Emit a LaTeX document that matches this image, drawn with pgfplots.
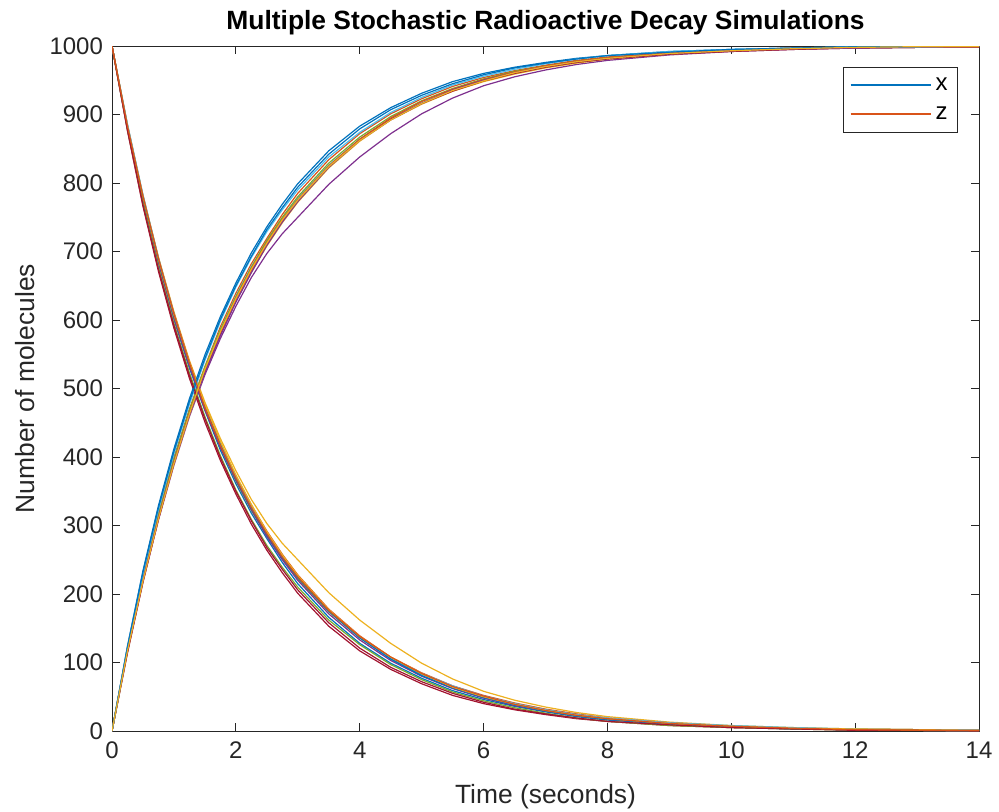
\documentclass[border=0pt]{standalone}
\usepackage{pgfplots}
\usepackage{pgfplotstable}
\usepackage{fontspec}
\setmainfont{Liberation Sans}
\pgfplotsset{compat=1.18}
\definecolor{c1}{rgb}{0,0.447,0.741}
\definecolor{c2}{rgb}{0.850,0.325,0.098}
\definecolor{c3}{rgb}{0.929,0.694,0.125}
\definecolor{c4}{rgb}{0.494,0.184,0.556}
\definecolor{c5}{rgb}{0.466,0.674,0.188}
\definecolor{c6}{rgb}{0.301,0.745,0.933}
\definecolor{c7}{rgb}{0.635,0.078,0.184}
\definecolor{axc}{rgb}{0.15,0.15,0.15}

\pgfplotstableread{
t x z
0 1000 0
0.25 880 120
0.5 775 225
0.75 683 317
1 601 399
1.25 530 470
1.5 468 532
1.75 410 590
2 361 639
2.25 318 682
2.5 281 719
2.75 246 754
3 215 785
3.5 166 834
4 128 872
4.5 99 901
5 77 923
5.5 59 941
6 46 954
6.5 36 964
7 28 972
7.5 21 979
8 16 984
9 10 990
10 6 994
11 3 997
12 2 998
13 1 999
14 1 999
}\simA
\pgfplotstableread{
t x z
0 1000 0
0.25 884 116
0.5 782 218
0.75 692 308
1 612 388
1.25 541 459
1.5 480 520
1.75 427 573
2 380 620
2.25 338 662
2.5 303 697
2.75 274 726
3 250 750
3.5 202 798
4 162 838
4.5 128 872
5 99 901
5.5 76 924
6 58 942
6.5 45 955
7 35 965
7.5 27 973
8 21 979
9 13 987
10 8 992
11 5 995
12 3 997
13 2 998
14 1 999
}\simB
\pgfplotstableread{
t x z
0 1000 0
0.25 883 117
0.5 779 221
0.75 686 314
1 604 396
1.25 534 466
1.5 470 530
1.75 414 586
2 365 635
2.25 322 678
2.5 285 715
2.75 252 748
3 222 778
3.5 174 826
4 136 864
4.5 106 894
5 83 917
5.5 65 935
6 51 949
6.5 39 961
7 30 970
7.5 23 977
8 18 982
9 11 989
10 7 993
11 4 996
12 2 998
13 1 999
14 0 1000
}\simC
\pgfplotstableread{
t x z
0 1000 0
0.25 876 124
0.5 766 234
0.75 671 329
1 588 412
1.25 515 485
1.5 451 549
1.75 395 605
2 346 654
2.25 302 698
2.5 264 736
2.75 231 769
3 201 799
3.5 153 847
4 117 883
4.5 90 910
5 69 931
5.5 52 948
6 40 960
6.5 31 969
7 24 976
7.5 18 982
8 14 986
9 8 992
10 5 995
11 3 997
12 2 998
13 1 999
14 0 1000
}\simD
\pgfplotstableread{
t x z
0 1000 0
0.25 885 115
0.5 781 219
0.75 690 310
1 610 390
1.25 539 461
1.5 476 524
1.75 421 579
2 372 628
2.25 330 670
2.5 292 708
2.75 258 742
3 228 772
3.5 178 822
4 139 861
4.5 108 892
5 85 915
5.5 66 934
6 52 948
6.5 41 959
7 32 968
7.5 25 975
8 19 981
9 12 988
10 7 993
11 4 996
12 3 997
13 2 998
14 1 999
}\simE
\pgfplotstableread{
t x z
0 1000 0
0.25 881 119
0.5 776 224
0.75 684 316
1 603 397
1.25 532 468
1.5 469 531
1.75 414 586
2 366 634
2.25 323 677
2.5 284 716
2.75 250 750
3 220 780
3.5 171 829
4 133 867
4.5 103 897
5 80 920
5.5 62 938
6 48 952
6.5 37 963
7 29 971
7.5 22 978
8 17 983
9 10 990
10 6 994
11 4 996
12 2 998
13 1 999
14 0 1000
}\simF
\pgfplotstableread{
t x z
0 1000 0
0.25 886 114
0.5 783 217
0.75 691 309
1 609 391
1.25 537 463
1.5 474 526
1.75 419 581
2 370 630
2.25 327 673
2.5 289 711
2.75 255 745
3 226 774
3.5 176 824
4 137 863
4.5 107 893
5 84 916
5.5 66 934
6 51 949
6.5 40 960
7 31 969
7.5 24 976
8 19 981
9 12 988
10 8 992
11 5 995
12 3 997
13 2 998
14 2 998
}\simG
\pgfplotstableread{
t x z
0 1000 0
0.25 880 120
0.5 777 223
0.75 688 312
1 607 393
1.25 536 464
1.5 473 527
1.75 418 582
2 368 632
2.25 325 675
2.5 287 713
2.75 253 747
3 224 776
3.5 175 825
4 136 864
4.5 105 895
5 81 919
5.5 63 937
6 49 951
6.5 38 962
7 29 971
7.5 22 978
8 17 983
9 10 990
10 6 994
11 3 997
12 2 998
13 1 999
14 0 1000
}\simH
\pgfplotstableread{
t x z
0 1000 0
0.25 882 118
0.5 780 220
0.75 689 311
1 608 392
1.25 538 462
1.5 477 523
1.75 423 577
2 374 626
2.25 331 669
2.5 291 709
2.75 257 743
3 227 773
3.5 177 823
4 138 862
4.5 108 892
5 84 916
5.5 64 936
6 50 950
6.5 39 961
7 30 970
7.5 23 977
8 18 982
9 11 989
10 7 993
11 4 996
12 3 997
13 2 998
14 1 999
}\simI
\pgfplotstableread{
t x z
0 1000 0
0.25 878 122
0.5 771 229
0.75 677 323
1 595 405
1.25 523 477
1.5 459 541
1.75 402 598
2 352 648
2.25 309 691
2.5 271 729
2.75 239 761
3 210 790
3.5 162 838
4 126 874
4.5 97 903
5 75 925
5.5 57 943
6 44 956
6.5 34 966
7 26 974
7.5 19 981
8 14 986
9 8 992
10 5 995
11 3 997
12 1 999
13 1 999
14 0 1000
}\simJ
\pgfplotstableread{
t x z
0 1000 0
0.25 877 123
0.5 768 232
0.75 674 326
1 592 408
1.25 519 481
1.5 456 544
1.75 399 601
2 350 650
2.25 307 693
2.5 268 732
2.75 236 764
3 206 794
3.5 158 842
4 121 879
4.5 93 907
5 72 928
5.5 55 945
6 42 958
6.5 32 968
7 25 975
7.5 19 981
8 14 986
9 9 991
10 5 995
11 3 997
12 1 999
13 1 999
14 0 1000
}\simK
\pgfplotstableread{
t x z
0 1000 0
0.25 883 117
0.5 781 219
0.75 690 310
1 609 391
1.25 537 463
1.5 472 528
1.75 417 583
2 369 631
2.25 326 674
2.5 288 712
2.75 254 746
3 225 775
3.5 176 824
4 138 862
4.5 108 892
5 84 916
5.5 65 935
6 51 949
6.5 39 961
7 30 970
7.5 23 977
8 18 982
9 11 989
10 7 993
11 4 996
12 2 998
13 1 999
14 1 999
}\simL

\begin{document}
\begin{tikzpicture}
\useasboundingbox (-56pt,-40pt) rectangle (443.5pt,365.5pt);
\begin{axis}[
  scale only axis,
  width=433.5pt, height=342.5pt,
  at={(0pt,0pt)}, anchor=south west,
  xmin=0, xmax=14, ymin=0, ymax=1000,
  xtick={0,2,...,14}, ytick={0,100,...,1000},
  tick align=inside, major tick length=4pt,
  axis line style={axc, line width=0.5pt},
  every tick/.style={axc, line width=0.5pt},
  tick label style={font=\fontsize{12}{14}\selectfont, text=axc},
  /pgf/number format/assume math mode=true,
  /pgf/number format/1000 sep={},
  xticklabel style={yshift=-2pt},
  yticklabel style={xshift=-1pt},
  xlabel={Time (seconds)},
  ylabel={Number of molecules},
  label style={font=\fontsize{13.2}{15}\selectfont, text=axc},
  xlabel style={at={(rel axis cs:0.5,0)}, anchor=center, yshift=-33pt},
  ylabel style={at={(rel axis cs:0,0.5)}, anchor=center, yshift=43.5pt},
  title={Multiple Stochastic Radioactive Decay Simulations},
  title style={at={(rel axis cs:0.5,1)}, anchor=center, yshift=5.5pt, font=\bfseries\fontsize{13.2}{15}\selectfont},
  cycle list={{c1},{c2},{c3},{c4},{c5},{c6},{c7}},
  every axis plot/.append style={line width=0.6pt},
  legend style={at={(rel axis cs:1,1)}, anchor=north east, xshift=-10.5pt, yshift=-10.5pt,
    draw=axc, line width=0.5pt, font=\fontsize{12}{14}\selectfont, row sep=3pt,
    inner xsep=3pt, inner ysep=3pt},
  legend cell align=left,
  legend image code/.code={\draw[#1, line width=1pt] (0pt,0.3pt) -- (40pt,0.3pt);},
]
\addplot table[x=t,y=x] {\simA};
\addplot table[x=t,y=z] {\simA};
\addplot table[x=t,y=x] {\simB};
\addplot table[x=t,y=z] {\simB};
\addplot table[x=t,y=x] {\simC};
\addplot table[x=t,y=z] {\simC};
\addplot table[x=t,y=x] {\simD};
\addplot table[x=t,y=z] {\simD};
\addplot table[x=t,y=x] {\simE};
\addplot table[x=t,y=z] {\simE};
\addplot table[x=t,y=x] {\simF};
\addplot table[x=t,y=z] {\simF};
\addplot table[x=t,y=x] {\simG};
\addplot table[x=t,y=z] {\simG};
\addplot table[x=t,y=x] {\simH};
\addplot table[x=t,y=z] {\simH};
\addplot table[x=t,y=x] {\simI};
\addplot table[x=t,y=z] {\simI};
\addplot table[x=t,y=x] {\simJ};
\addplot table[x=t,y=z] {\simJ};
\addplot table[x=t,y=x] {\simK};
\addplot table[x=t,y=z] {\simK};
\addplot table[x=t,y=x] {\simL};
\addplot table[x=t,y=z] {\simL};
\legend{x,z}
\end{axis}
\end{tikzpicture}
\end{document}
